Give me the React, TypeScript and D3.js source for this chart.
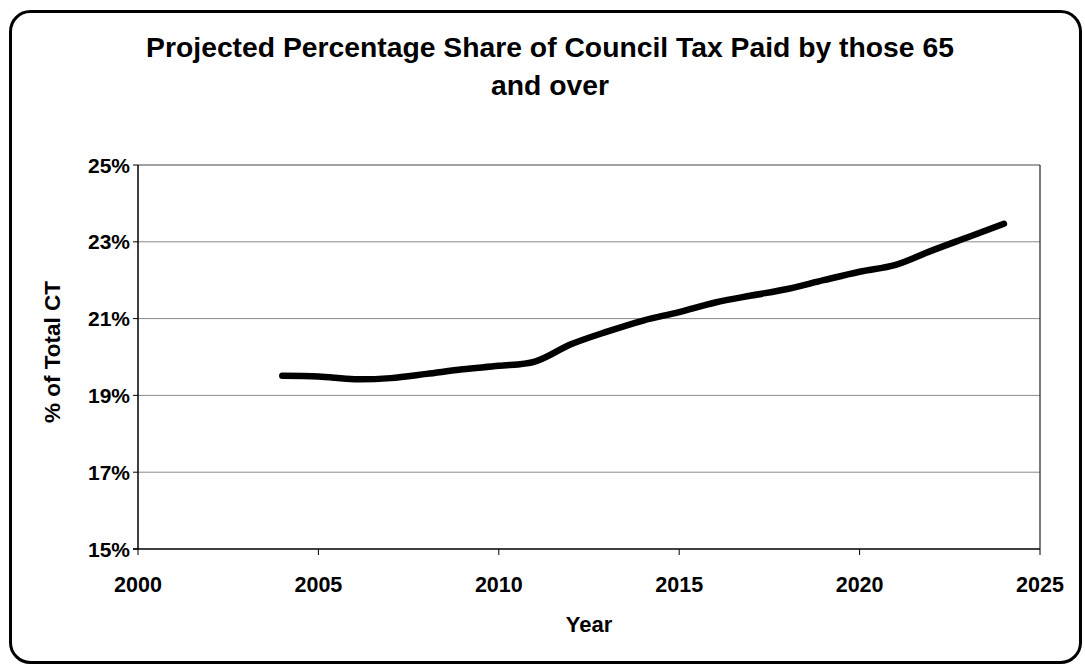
import React from "react";
import * as d3 from "d3";

const years = [2004, 2005, 2006, 2007, 2008, 2009, 2010, 2011, 2012, 2013, 2014, 2015, 2016, 2017, 2018, 2019, 2020, 2021, 2022, 2023, 2024];
const shares = [19.51, 19.49, 19.42, 19.45, 19.56, 19.68, 19.77, 19.88, 20.33, 20.66, 20.95, 21.17, 21.42, 21.6, 21.77, 22.0, 22.22, 22.4, 22.77, 23.12, 23.47];
const xTicks = [2000, 2005, 2010, 2015, 2020, 2025];
const yTicks = [15, 17, 19, 21, 23, 25];
const titleLines = ["Projected Percentage Share of Council Tax Paid by those 65", "and over"];
const xTitle = "Year";
const yTitle = "% of Total CT";

const W = 1085, H = 667;
const plot = { left: 138, right: 1040, top: 165, bottom: 549 };
const FONT = "Arial, 'Liberation Sans', Helvetica, sans-serif";

export default function App() {
  const x = d3.scaleLinear().domain([2000, 2025]).range([plot.left, plot.right]);
  const y = d3.scaleLinear().domain([15, 25]).range([plot.bottom, plot.top]);
  const data = years.map((yr, i) => ({ yr, v: shares[i] }));
  const line = d3
    .line<{ yr: number; v: number }>()
    .x((d) => x(d.yr))
    .y((d) => y(d.v))
    .curve(d3.curveCatmullRom.alpha(0.5));

  return (
    <svg
      width={W}
      height={H}
      style={{ position: "fixed", left: 0, top: 0, background: "#fff" }}
      fontFamily={FONT}
    >
      <rect x={0} y={0} width={W} height={H} fill="#fff" />
      <rect x={10.5} y={11.5} width={1070} height={651} rx={20} ry={20} fill="#fff" stroke="#000" strokeWidth={3} />

      {titleLines.map((t, i) => (
        <text key={i} x={550} y={57 + i * 38} textAnchor="middle" fontSize={28.3} fontWeight="bold" fill="#000">
          {t}
        </text>
      ))}

      {/* gridlines */}
      {yTicks.filter((t) => t !== 15 && t !== 25).map((t) => (
        <line key={t} x1={plot.left} x2={plot.right} y1={y(t)} y2={y(t)} stroke="#8a8a8a" strokeWidth={1} />
      ))}

      {/* plot border */}
      <line x1={plot.left} x2={plot.right} y1={plot.top} y2={plot.top} stroke="#444" strokeWidth={1.2} />
      <line x1={plot.right} x2={plot.right} y1={plot.top} y2={plot.bottom} stroke="#222" strokeWidth={1.2} />

      {/* axes */}
      <line x1={plot.left} x2={plot.left} y1={plot.top} y2={plot.bottom} stroke="#000" strokeWidth={1.5} />
      <line x1={plot.left - 5} x2={plot.right} y1={plot.bottom} y2={plot.bottom} stroke="#000" strokeWidth={1.5} />

      {yTicks.map((t) => (
        <g key={t}>
          <line x1={plot.left - 5} x2={plot.left} y1={y(t)} y2={y(t)} stroke="#000" strokeWidth={1} />
          <text x={plot.left - 8} y={y(t)} dy="0.36em" textAnchor="end" fontSize={21} fontWeight="bold" fill="#000">
            {t}%
          </text>
        </g>
      ))}

      {xTicks.map((t) => (
        <g key={t}>
          <line x1={x(t)} x2={x(t)} y1={plot.bottom} y2={plot.bottom + 6} stroke="#000" strokeWidth={1} />
          <text x={x(t)} y={plot.bottom + 43} textAnchor="middle" fontSize={21.5} fontWeight="bold" fill="#000">
            {t}
          </text>
        </g>
      ))}

      <text x={(plot.left + plot.right) / 2} y={632} textAnchor="middle" fontSize={22} fontWeight="bold" fill="#000">
        {xTitle}
      </text>
      <text
        transform={`translate(60, 352) rotate(-90)`}
        textAnchor="middle"
        fontSize={22.5}
        fontWeight="bold"
        fill="#000"
      >
        {yTitle}
      </text>

      <path d={line(data) || ""} fill="none" stroke="#000" strokeWidth={6.5} strokeLinecap="round" strokeLinejoin="round" />
    </svg>
  );
}
